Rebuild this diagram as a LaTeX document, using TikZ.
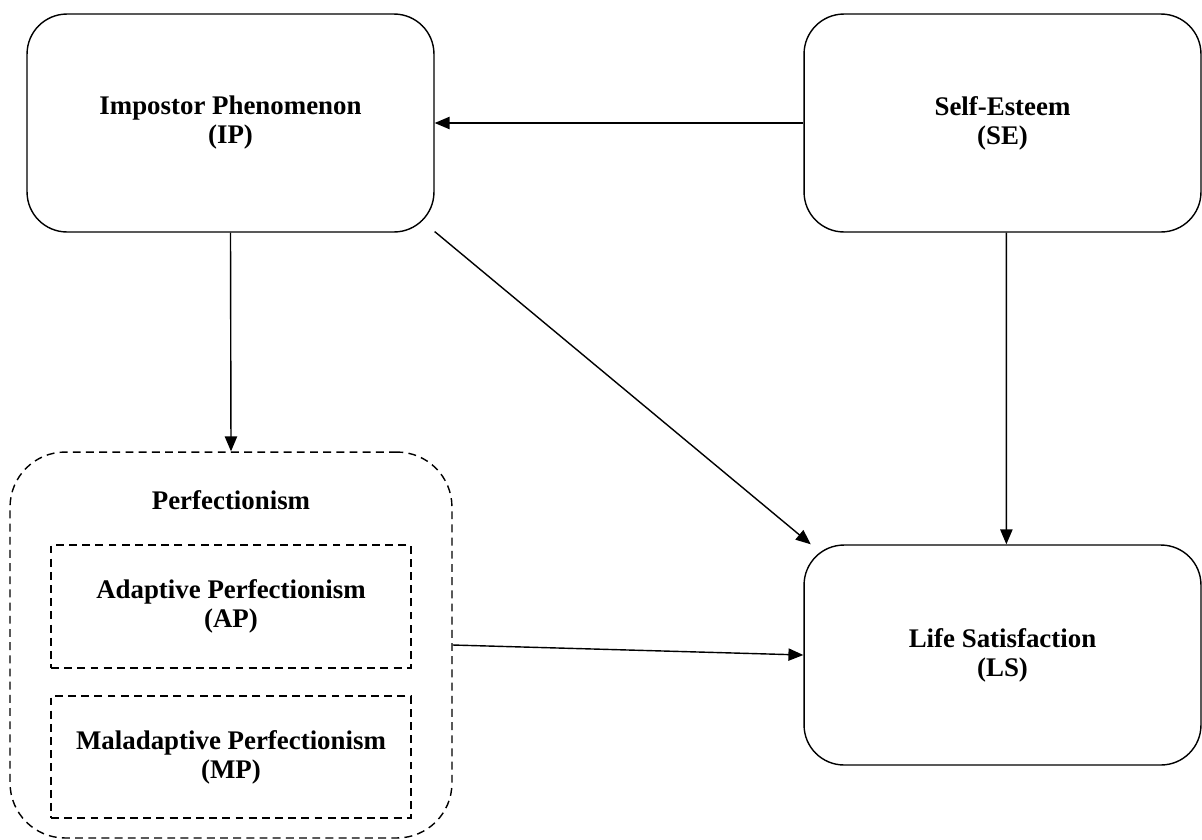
\documentclass[tikz,border=0pt]{standalone}
\usepackage{fontspec}
\setmainfont{Liberation Serif}
\usepackage{tikz}
\usetikzlibrary{arrows.meta,positioning}

\tikzset{
  varbox/.style={draw, line width=0.8pt, rounded corners=0.8cm, align=center,
    font=\fontsize{15.3}{16.5}\selectfont\bfseries},
  groupbox/.style={draw, line width=0.8pt, dash pattern=on 4.5pt off 3pt,
    rounded corners=1.1cm},
  subbox/.style={draw, line width=0.8pt, dash pattern=on 4.5pt off 3pt, align=center,
    font=\fontsize{15.3}{16.5}\selectfont\bfseries},
  causal/.style={draw, line width=0.8pt, -{Triangle[length=8.5pt,width=7pt]}}
}

\begin{document}
\begin{tikzpicture}[x=0.02cm,y=-0.02cm]
\useasboundingbox (0,0) rectangle (1202,839);

% variables
\node[varbox, minimum width=8.14cm, minimum height=4.36cm] (IP) at (230.5,123) {Impostor Phenomenon\\(IP)};
\node[varbox, minimum width=7.94cm, minimum height=4.36cm] (SE) at (1002.5,123) {Self-Esteem\\(SE)};
\node[varbox, minimum width=7.94cm, minimum height=4.4cm] (LS) at (1002.5,655) {Life Satisfaction\\(LS)};

% perfectionism group
\node[groupbox, minimum width=8.84cm, minimum height=7.72cm] (perf) at (231,645) {};
\node[font=\fontsize{15.3}{16.5}\selectfont\bfseries] (perflabel) at (231,500) {Perfectionism};
\node[subbox, minimum width=7.2cm, minimum height=2.46cm] (AP) at (231,606.5) {Adaptive Perfectionism\\(AP)};
\node[subbox, minimum width=7.2cm, minimum height=2.44cm] (MP) at (231,757) {Maladaptive Perfectionism\\(MP)};

% paths
\draw[causal] (SE.west) -- (IP.east);
\draw[causal] (IP.south) -- (perf.north);
\draw[causal] (IP.-28) -- (LS.150);
\draw[causal] (SE.-88) -- (LS.88);
\draw[causal] (perf.east) -- (LS.west);

\end{tikzpicture}
\end{document}
